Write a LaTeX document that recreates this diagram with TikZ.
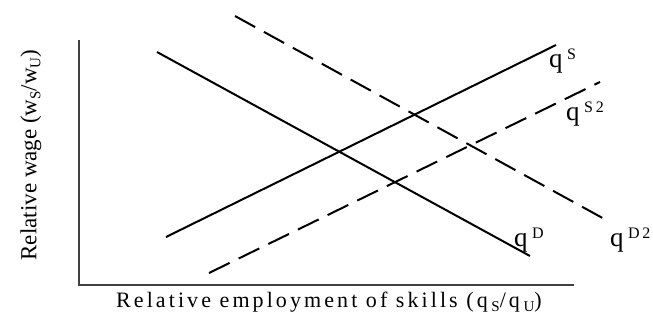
\documentclass[tikz,border=0pt]{standalone}
\usepackage{fontspec}
\setmainfont{Liberation Serif}
\newfontfamily\spacedfont[LetterSpace=14]{Liberation Serif}
\newcommand{\supsc}[1]{\raisebox{8pt}{\fontsize{16}{16}\selectfont #1}}
\newcommand{\subsc}[1]{\raisebox{-4pt}{\fontsize{15}{15}\selectfont #1}}
\begin{document}
\begin{tikzpicture}[x=1pt,y=-1pt,
  axisline/.style={draw=black!75,line width=1.1pt},
  curve/.style={draw=black,line width=2pt},
  dashcurve/.style={curve,dash pattern=on 23pt off 10pt},
  lbl/.style={inner sep=0pt,anchor=base west,font=\fontsize{27}{27}\selectfont},
  ylbl/.style={inner sep=0pt,font=\fontsize{23}{26}\selectfont},
  xlbl/.style={inner sep=0pt,font=\fontsize{22}{26}\selectfont}]
\useasboundingbox (0,0) rectangle (653,322);
% axes
\coordinate (top) at (79,40);
\coordinate (orig) at (79,285);
\coordinate (xend) at (574,285);
\draw[axisline] (top) -- (orig) -- (xend);
% curve end points
\coordinate (d1) at (157,52);
\coordinate (d2) at (530,256);
\coordinate (s1) at (166,237);
\coordinate (s2) at (556,45);
\coordinate (dd1) at (235,16);
\coordinate (dd2) at (608,221);
\coordinate (ss1) at (209,273);
\coordinate (ss2) at (600,82);
\draw[curve] (d1) -- (d2);
\draw[curve] (s1) -- (s2);
\draw[dashcurve] (dd1) -- (dd2);
\draw[dashcurve] (ss1) -- (ss2);
% labels
\node[lbl] (lS) at (549,67) {q\,\supsc{S}};
\node[lbl] (lS2) at (566,120) {q\,\supsc{S\,2}};
\node[lbl] (lD) at (514,246) {q\,\supsc{D}};
\node[lbl] (lD2) at (610,246) {q\,\supsc{D\,2}};
% axis titles
\node[ylbl,rotate=90] (ylab) at (31,155) {Relative wage (w\subsc{S}/w\subsc{U})};
\node[xlbl] (xlab) at (329,302) {\spacedfont Relative employment of skills (q\,\subsc{S}/q\,\subsc{U})};
\end{tikzpicture}
\end{document}
